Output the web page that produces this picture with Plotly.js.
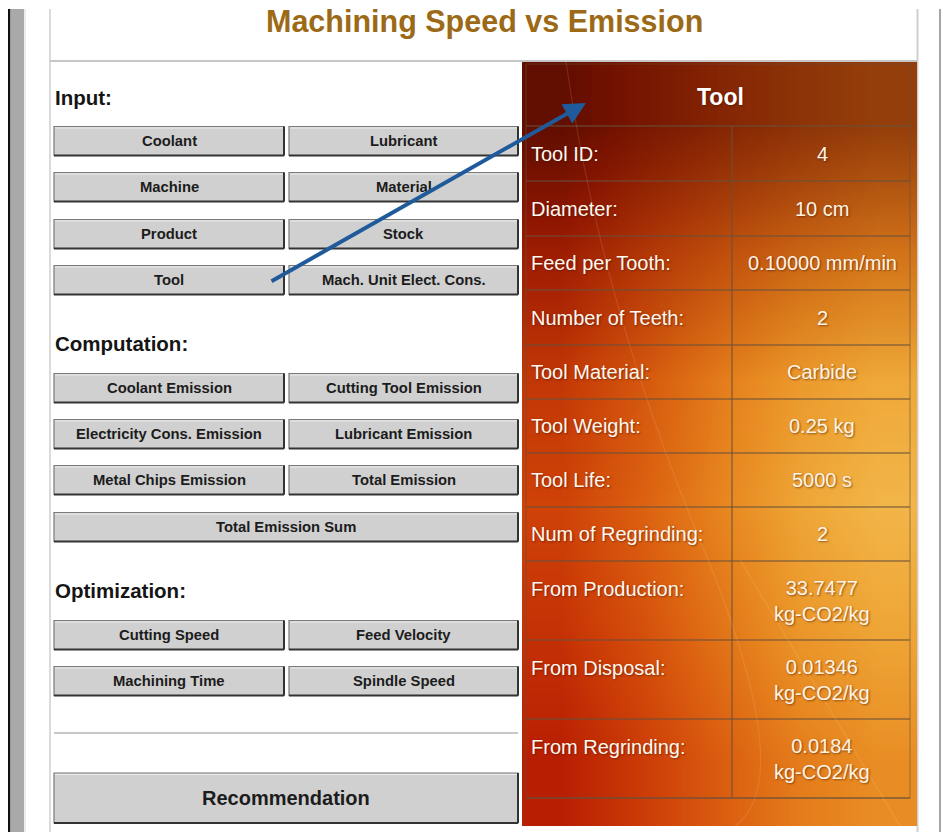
<!DOCTYPE html>
<html>
<head>
<meta charset="utf-8">
<script src="https://cdn.plot.ly/plotly-3.0.1.min.js"></script>
<style>
  html, body { margin: 0; padding: 0; background: #ffffff; }
  #chart { width: 943px; height: 832px; }
</style>
</head>
<body>
<div id="chart"></div>
<script>
// ---------- data ----------
const pageTitle = "Machining Speed vs Emission";
const sectionTitles = ["Input:", "Computation:", "Optimization:"];
const inputButtons = ["Coolant", "Lubricant", "Machine", "Material", "Product", "Stock", "Tool", "Mach. Unit Elect. Cons."];
const computationButtons = ["Coolant Emission", "Cutting Tool Emission", "Electricity Cons. Emission", "Lubricant Emission", "Metal Chips Emission", "Total Emission"];
const computationWide = "Total Emission Sum";
const optimizationButtons = ["Cutting Speed", "Feed Velocity", "Machining Time", "Spindle Speed"];
const recommendationLabel = "Recommendation";
const panelTitle = "Tool";
const fieldLabels = ["Tool ID:", "Diameter:", "Feed per Tooth:", "Number of Teeth:", "Tool Material:", "Tool Weight:", "Tool Life:", "Num of Regrinding:", "From Production:", "From Disposal:", "From Regrinding:"];
const fieldValues = ["4", "10 cm", "0.10000 mm/min", "2", "Carbide", "0.25 kg", "5000 s", "2", "33.7477", "0.01346", "0.0184"];
const fieldUnits  = ["", "", "", "", "", "", "", "", "kg-CO2/kg", "kg-CO2/kg", "kg-CO2/kg"];

// ---------- geometry / style ----------
const FONT = "Liberation Sans, Arial, Helvetica, sans-serif";
const colL = [54, 284], colR = [289, 518];
const inputRowsY = [141, 187, 234, 280];
const compRowsY = [388, 434, 480];
const compWideY = 527;
const optRowsY = [635, 681];
const btnH = 29;
const rowLines = [126, 181, 236, 290, 345, 399, 453, 507, 561, 640, 719, 798];
const tblL = 526, tblR = 910, tblTop = 64, colDiv = 732;
const panel = {x0: 522, x1: 917, y0: 62, y1: 826};

const shapes = [];
const annotations = [];

// page frame
shapes.push({type:'rect', xref:'x', yref:'y', x0:8, x1:10.5, y0:9, y1:832, fillcolor:'#111', line:{width:0}, layer:'below'});
shapes.push({type:'rect', xref:'x', yref:'y', x0:10.5, x1:24, y0:9, y1:832, fillcolor:'#a9a9a9', line:{width:0}, layer:'below'});
shapes.push({type:'line', xref:'x', yref:'y', x0:25, x1:25, y0:9, y1:832, line:{color:'#d8d8d8', width:1}, layer:'below'});
shapes.push({type:'line', xref:'x', yref:'y', x0:50, x1:50, y0:9, y1:832, line:{color:'#cfcfcf', width:1.5}, layer:'below'});
shapes.push({type:'line', xref:'x', yref:'y', x0:917.5, x1:917.5, y0:9, y1:832, line:{color:'#cfcfcf', width:2}, layer:'below'});
shapes.push({type:'line', xref:'x', yref:'y', x0:940, x1:940, y0:9, y1:832, line:{color:'#a5a5a5', width:2}, layer:'below'});
shapes.push({type:'line', xref:'x', yref:'y', x0:50, x1:917, y0:61, y1:61, line:{color:'#c6c6c6', width:2}, layer:'below'});
// separator above Recommendation
shapes.push({type:'line', xref:'x', yref:'y', x0:54, x1:518, y0:733, y1:733, line:{color:'#b5b5b5', width:1.5}, layer:'below'});

function button(x0, x1, yc, h, label, size) {
  const y0 = yc - h/2, y1 = yc + h/2;
  shapes.push({type:'rect', xref:'x', yref:'y', x0:x0, x1:x1, y0:y0, y1:y1, fillcolor:'#d0d0d0', line:{color:'#7a7a7a', width:1.2}, layer:'below'});
  shapes.push({type:'line', xref:'x', yref:'y', x0:x0, x1:x1, y0:y1, y1:y1, line:{color:'#333', width:2}, layer:'below'});
  shapes.push({type:'line', xref:'x', yref:'y', x0:x1, x1:x1, y0:y0, y1:y1, line:{color:'#333', width:2}, layer:'below'});
  shapes.push({type:'line', xref:'x', yref:'y', x0:x0+1, x1:x1-1, y0:y0+1.5, y1:y0+1.5, line:{color:'#ececec', width:1}, layer:'below'});
  annotations.push({xref:'x', yref:'y', x:(x0+x1)/2, y:yc, text:'<b>'+label+'</b>', showarrow:false,
    xanchor:'center', yanchor:'middle', font:{family:FONT, size:size, color:'#1c1c1c'}});
}

// title
annotations.push({xref:'x', yref:'y', x:484, y:21, text:'<b>'+pageTitle+'</b>', showarrow:false,
  xanchor:'center', yanchor:'middle', font:{family:FONT, size:30.5, color:'#9c6a16'}});

// section headers
const sectionY = [97, 343, 590];
sectionTitles.forEach((t, i) => annotations.push({xref:'x', yref:'y', x:53, y:sectionY[i], text:'<b>'+t+'</b>',
  showarrow:false, xanchor:'left', yanchor:'middle', font:{family:FONT, size:20.5, color:'#151515'}}));

// buttons
const bfs = 14.8;
inputRowsY.forEach((y, r) => {
  button(colL[0], colL[1], y, btnH, inputButtons[2*r], bfs);
  button(colR[0], colR[1], y, btnH, inputButtons[2*r+1], bfs);
});
compRowsY.forEach((y, r) => {
  button(colL[0], colL[1], y, btnH, computationButtons[2*r], bfs);
  button(colR[0], colR[1], y, btnH, computationButtons[2*r+1], bfs);
});
button(colL[0], colR[1], compWideY, btnH, computationWide, bfs);
optRowsY.forEach((y, r) => {
  button(colL[0], colL[1], y, btnH, optimizationButtons[2*r], bfs);
  button(colR[0], colR[1], y, btnH, optimizationButtons[2*r+1], bfs);
});
button(colL[0], colR[1], 798, 50, recommendationLabel, 20);

// table grid
const gridLine = {color:'rgba(105,80,60,0.7)', width:1.5};
shapes.push({type:'rect', xref:'x', yref:'y', x0:tblL, x1:tblR, y0:tblTop, y1:rowLines[rowLines.length-1], line:{color:'rgba(105,80,60,0.5)', width:1.2}, fillcolor:'rgba(0,0,0,0)'});
rowLines.forEach(y => shapes.push({type:'line', xref:'x', yref:'y', x0:tblL, x1:tblR, y0:y, y1:y, line:gridLine}));
shapes.push({type:'line', xref:'x', yref:'y', x0:colDiv, x1:colDiv, y0:rowLines[0], y1:rowLines[rowLines.length-1], line:gridLine});
// faint light streaks
shapes.push({type:'path', xref:'x', yref:'y', path:'M 566 62 Q 600 300 700 540 T 735 826', line:{color:'rgba(255,225,190,0.13)', width:1.2}});
shapes.push({type:'path', xref:'x', yref:'y', path:'M 740 560 L 900 826', line:{color:'rgba(255,225,190,0.15)', width:1.2}});

// panel header
const shadow = '1px 1px 2px rgba(70,20,0,0.55)';
annotations.push({xref:'x', yref:'y', x:720, y:97, text:'<b>'+panelTitle+'</b>', showarrow:false,
  xanchor:'center', yanchor:'middle', font:{family:FONT, size:23, color:'#ffffff', shadow:shadow}});

// fields
fieldLabels.forEach((lab, i) => {
  const top = rowLines[i], bot = rowLines[i+1];
  const twoLine = fieldUnits[i] !== '';
  const yLab = twoLine ? top + 28 : (top + bot) / 2;
  annotations.push({xref:'x', yref:'y', x:529, y:yLab, text:lab, showarrow:false,
    xanchor:'left', yanchor:'middle', font:{family:FONT, size:20, color:'#fff8f0', shadow:shadow}});
  const txt = twoLine ? fieldValues[i] + '<br>' + fieldUnits[i] : fieldValues[i];
  annotations.push({xref:'x', yref:'y', x:822, y: twoLine ? top + 40 : (top + bot) / 2, text:txt, showarrow:false,
    xanchor:'center', yanchor:'middle', align:'center', font:{family:FONT, size:20, color:'#fff4e4', shadow:shadow}});
});

// arrow from Tool button to panel
annotations.push({xref:'x', yref:'y', axref:'x', ayref:'y', x:586, y:103, ax:270, ay:282, text:'', showarrow:true,
  arrowhead:2, arrowsize:1.1, arrowwidth:4, arrowcolor:'#1f5b9b'});

// gradient background of panel (smoothed heatmaps: base hue + darkening veil)
const gx = [panel.x0, 601, 680, 759, 838, panel.x1];
const gy = [panel.y0, 189, 316, 443, 570, 697, panel.y1];
const gz = [
  [0.20, 0.34, 0.45, 0.55, 0.62],
  [0.32, 0.44, 0.56, 0.66, 0.72],
  [0.42, 0.55, 0.70, 0.84, 0.92],
  [0.45, 0.58, 0.74, 0.90, 1.00],
  [0.38, 0.50, 0.66, 0.82, 0.90],
  [0.30, 0.42, 0.56, 0.70, 0.78]
];
const veil = [
  [1.00, 0.95, 0.90, 0.85, 0.80],
  [0.40, 0.35, 0.30, 0.25, 0.20],
  [0.10, 0.05, 0.00, 0.00, 0.00],
  [0.00, 0.00, 0.00, 0.00, 0.00],
  [0.00, 0.00, 0.00, 0.00, 0.00],
  [0.00, 0.00, 0.00, 0.00, 0.00]
];
const baseTrace = {
  type:'heatmap', x:gx, y:gy, z:gz, zsmooth:'best', zmin:0, zmax:1, showscale:false, hoverinfo:'skip',
  colorscale:[[0,'#5a0700'],[0.15,'#861300'],[0.3,'#b81e02'],[0.45,'#cf4208'],[0.6,'#dd6512'],[0.75,'#e7871f'],[0.9,'#eea535'],[1,'#f2b548']]
};
const veilTrace = {
  type:'heatmap', x:gx, y:gy, z:veil, zsmooth:'best', zmin:0, zmax:1, showscale:false, hoverinfo:'skip',
  colorscale:[[0,'rgba(55,8,0,0)'],[1,'rgba(55,8,0,0.55)']]
};

const layout = {
  width:943, height:832,
  margin:{l:0, r:0, t:0, b:0},
  paper_bgcolor:'#ffffff', plot_bgcolor:'#ffffff',
  xaxis:{range:[0,943], visible:false, fixedrange:true, showgrid:false, zeroline:false},
  yaxis:{range:[832,0], visible:false, fixedrange:true, showgrid:false, zeroline:false},
  shapes:shapes, annotations:annotations, showlegend:false
};
Plotly.newPlot('chart', [baseTrace, veilTrace], layout, {displayModeBar:false, staticPlot:true});
</script>
</body>
</html>
